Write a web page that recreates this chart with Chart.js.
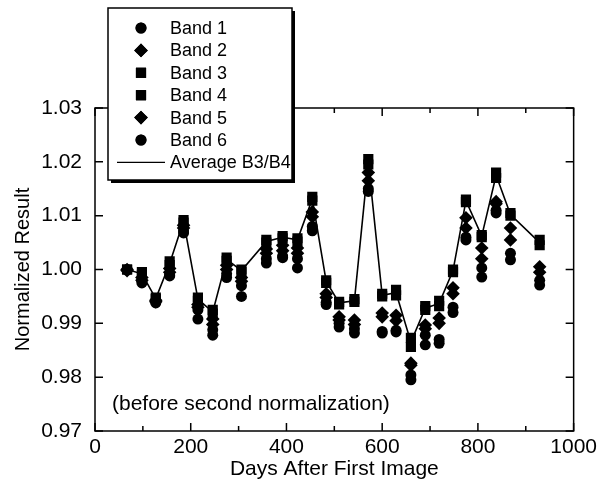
<!DOCTYPE html>
<html>
<head>
<meta charset="utf-8">
<script src="https://cdn.jsdelivr.net/npm/chart.js@4/dist/chart.umd.min.js"></script>
<style>
  body { margin: 0; background: #fff; }
  #wrap { width: 601px; height: 492px; }
</style>
</head>
<body>
<div id="wrap"><canvas id="graph" width="601" height="492"></canvas></div>
<script>
// days of each image
var days = [67, 98, 127, 156, 185, 215, 246, 275, 306, 358, 392, 423, 454, 483,
            510, 542, 571, 600, 629, 660, 690, 719, 748, 775, 808, 838, 868, 929];

var band1 = [0.9999, 0.9978, 0.9942, 0.9990, 1.0072, 0.9925, 0.9888, 0.9992, 0.9970, 1.0020,
             1.0025, 1.0020, 1.0080, 0.9939, 0.9900, 0.9890, 1.0150, 0.9885, 0.9887, 0.9804,
             0.9878, 0.9870, 0.9930, 1.0060, 1.0003, 1.0110, 1.0030, 0.9980];
var band2 = [1.0000, 0.9985, 0.9943, 1.0002, 1.0082, 0.9935, 0.9908, 1.0008, 0.9985, 1.0038,
             1.0045, 1.0040, 1.0107, 0.9955, 0.9912, 0.9906, 1.0180, 0.9919, 0.9915, 0.9826,
             0.9897, 0.9910, 0.9966, 1.0096, 1.0040, 1.0126, 1.0077, 1.0005];
var band3 = [1.0000, 0.9995, 0.9948, 1.0015, 1.0092, 0.9948, 0.9925, 1.0022, 1.0000, 1.0055,
             1.0062, 1.0058, 1.0135, 0.9980, 0.9940, 0.9945, 1.0205, 0.9955, 0.9962, 0.9873,
             0.9932, 0.9942, 1.0000, 1.0130, 1.0064, 1.0180, 1.0105, 1.0055];
var band4 = [1.0000, 0.9990, 0.9945, 1.0008, 1.0087, 0.9942, 0.9918, 1.0016, 0.9995, 1.0050,
             1.0058, 1.0052, 1.0128, 0.9975, 0.9935, 0.9940, 1.0195, 0.9950, 0.9952, 0.9856,
             0.9925, 0.9932, 0.9995, 1.0125, 1.0060, 1.0170, 1.0100, 1.0045];
var band5 = [0.9998, 0.9980, 0.9940, 0.9995, 1.0077, 0.9930, 0.9898, 1.0000, 0.9978, 1.0030,
             1.0035, 1.0030, 1.0098, 0.9948, 0.9906, 0.9898, 1.0165, 0.9912, 0.9905, 0.9822,
             0.9890, 0.9900, 0.9955, 1.0077, 1.0020, 1.0122, 1.0055, 0.9995];
var band6 = [1.0000, 0.9975, 0.9938, 0.9988, 1.0068, 0.9908, 0.9878, 0.9985, 0.9950, 1.0012,
             1.0022, 1.0003, 1.0072, 0.9935, 0.9893, 0.9882, 1.0145, 0.9882, 0.9884, 0.9795,
             0.9860, 0.9863, 0.9920, 1.0055, 0.9986, 1.0105, 1.0018, 0.9971];
var avgB34 = [1.0000, 0.9992, 0.9946, 1.0011, 1.0090, 0.9945, 0.9921, 1.0019, 0.9998, 1.0052,
              1.0060, 1.0055, 1.0131, 0.9978, 0.9938, 0.9942, 1.0200, 0.9952, 0.9957, 0.9865,
              0.9928, 0.9937, 0.9998, 1.0128, 1.0062, 1.0175, 1.0102, 1.0050];

var yTicks = [0.97, 0.98, 0.99, 1.00, 1.01, 1.02, 1.03];
var xTicks = [0, 200, 400, 600, 800, 1000];

var FONT = "'Liberation Sans', Arial, Helvetica, sans-serif";

function pts(values) {
    var out = [];
    for (var i = 0; i < days.length; i++) {
        out.push({x: days[i], y: values[i]});
    }
    return out;
}

function band(label, values, style, radius) {
    return {
        type: 'scatter',
        label: label,
        data: pts(values),
        pointStyle: style,
        pointRadius: radius,
        pointBackgroundColor: '#000',
        pointBorderColor: '#000',
        pointBorderWidth: 0,
        showLine: false
    };
}

// inward ticks on all four sides plus the box frame
var frameTicks = {
    id: 'frameTicks',
    afterDatasetsDraw: function(chart) {
        var ctx = chart.ctx, a = chart.chartArea;
        var xs = chart.scales.x, ys = chart.scales.y;
        ctx.save();
        ctx.strokeStyle = '#000';
        ctx.lineWidth = 1.5;
        ctx.strokeRect(a.left, a.top, a.right - a.left, a.bottom - a.top);
        ctx.beginPath();
        for (var i = 0; i < xTicks.length; i++) {
            var px = xs.getPixelForValue(xTicks[i]);
            ctx.moveTo(px, a.bottom); ctx.lineTo(px, a.bottom - 8);
            ctx.moveTo(px, a.top); ctx.lineTo(px, a.top + 8);
            if (i < xTicks.length - 1) {
                var mx = xs.getPixelForValue((xTicks[i] + xTicks[i + 1]) / 2);
                ctx.moveTo(mx, a.bottom); ctx.lineTo(mx, a.bottom - 5);
                ctx.moveTo(mx, a.top); ctx.lineTo(mx, a.top + 5);
            }
        }
        for (var j = 0; j < yTicks.length; j++) {
            var py = ys.getPixelForValue(yTicks[j]);
            ctx.moveTo(a.left, py); ctx.lineTo(a.left + 8, py);
            ctx.moveTo(a.right, py); ctx.lineTo(a.right - 8, py);
        }
        ctx.stroke();

        ctx.fillStyle = '#000';
        ctx.font = '21px ' + FONT;
        ctx.textBaseline = 'middle';
        ctx.textAlign = 'left';
        ctx.fillText('(before second normalization)', 112, 404);
        ctx.restore();
    }
};

// boxed legend with a drop shadow, sitting over the top-left of the plot
var boxLegend = {
    id: 'boxLegend',
    afterDraw: function(chart) {
        var ctx = chart.ctx;
        var bx = 108, by = 8, bw = 184, bh = 172;
        ctx.save();
        ctx.fillStyle = '#000';
        ctx.fillRect(bx + 3, by + 3, bw, bh);
        ctx.fillStyle = '#fff';
        ctx.fillRect(bx, by, bw, bh);
        ctx.strokeStyle = '#000';
        ctx.lineWidth = 1.5;
        ctx.strokeRect(bx, by, bw, bh);

        ctx.font = '18px ' + FONT;
        ctx.textBaseline = 'middle';
        ctx.textAlign = 'left';
        var sets = chart.data.datasets;
        for (var i = 0; i < sets.length; i++) {
            var ds = sets[i];
            var y = 28 + i * 22.4;
            if (ds.showLine) {
                ctx.beginPath();
                ctx.lineWidth = 1.2;
                ctx.moveTo(117, y); ctx.lineTo(165, y);
                ctx.stroke();
            } else {
                ctx.fillStyle = '#000';
                Chart.helpers.drawPoint(ctx, {pointStyle: ds.pointStyle, radius: ds.pointRadius, borderWidth: 0}, 141, y);
                ctx.fill();
            }
            ctx.fillStyle = '#000';
            ctx.fillText(ds.label, 170, y + 1);
        }
        ctx.restore();
    }
};

var ctx = document.getElementById('graph').getContext('2d');
var chart = new Chart(ctx, {
    type: 'scatter',
    data: {
        datasets: [
            band('Band 1', band1, 'circle', 5.5),
            band('Band 2', band2, 'rectRot', 6.8),
            band('Band 3', band3, 'rect', 7.2),
            band('Band 4', band4, 'rect', 7.2),
            band('Band 5', band5, 'rectRot', 6.8),
            band('Band 6', band6, 'circle', 5.5),
            {
                type: 'line',
                label: 'Average B3/B4',
                data: pts(avgB34),
                showLine: true,
                borderColor: '#000',
                borderWidth: 1.6,
                pointRadius: 0,
                tension: 0,
                fill: false
            }
        ]
    },
    options: {
        responsive: false,
        animation: false,
        devicePixelRatio: 1,
        layout: { padding: { top: 108, right: 26, bottom: 0, left: 0 } },
        plugins: { legend: { display: false }, tooltip: { enabled: false } },
        scales: {
            x: {
                type: 'linear',
                min: 0, max: 1000,
                afterBuildTicks: function(s) { s.ticks = xTicks.map(function(v) { return {value: v}; }); },
                afterFit: function(s) { s.height = 61; },
                grid: { display: false, drawTicks: false },
                border: { display: false },
                ticks: { color: '#000', padding: 4, maxRotation: 0, font: { family: FONT, size: 21 },
                         callback: function(v) { return String(v); } },
                title: { display: true, text: 'Days After First Image', color: '#000',
                         font: { family: FONT, size: 21 }, padding: { top: 0, bottom: 10 } }
            },
            y: {
                type: 'linear',
                min: 0.97, max: 1.03,
                afterBuildTicks: function(s) { s.ticks = yTicks.map(function(v) { return {value: v}; }); },
                afterFit: function(s) { s.width = 95; },
                grid: { display: false, drawTicks: false },
                border: { display: false },
                ticks: { color: '#000', padding: 13, font: { family: FONT, size: 21 },
                         callback: function(v) { return Number(v).toFixed(2); } },
                title: { display: true, text: 'Normalized Result', color: '#000',
                         font: { family: FONT, size: 20 }, padding: { top: 11, bottom: 0 } }
            }
        }
    },
    plugins: [frameTicks, boxLegend]
});
</script>
</body>
</html>
